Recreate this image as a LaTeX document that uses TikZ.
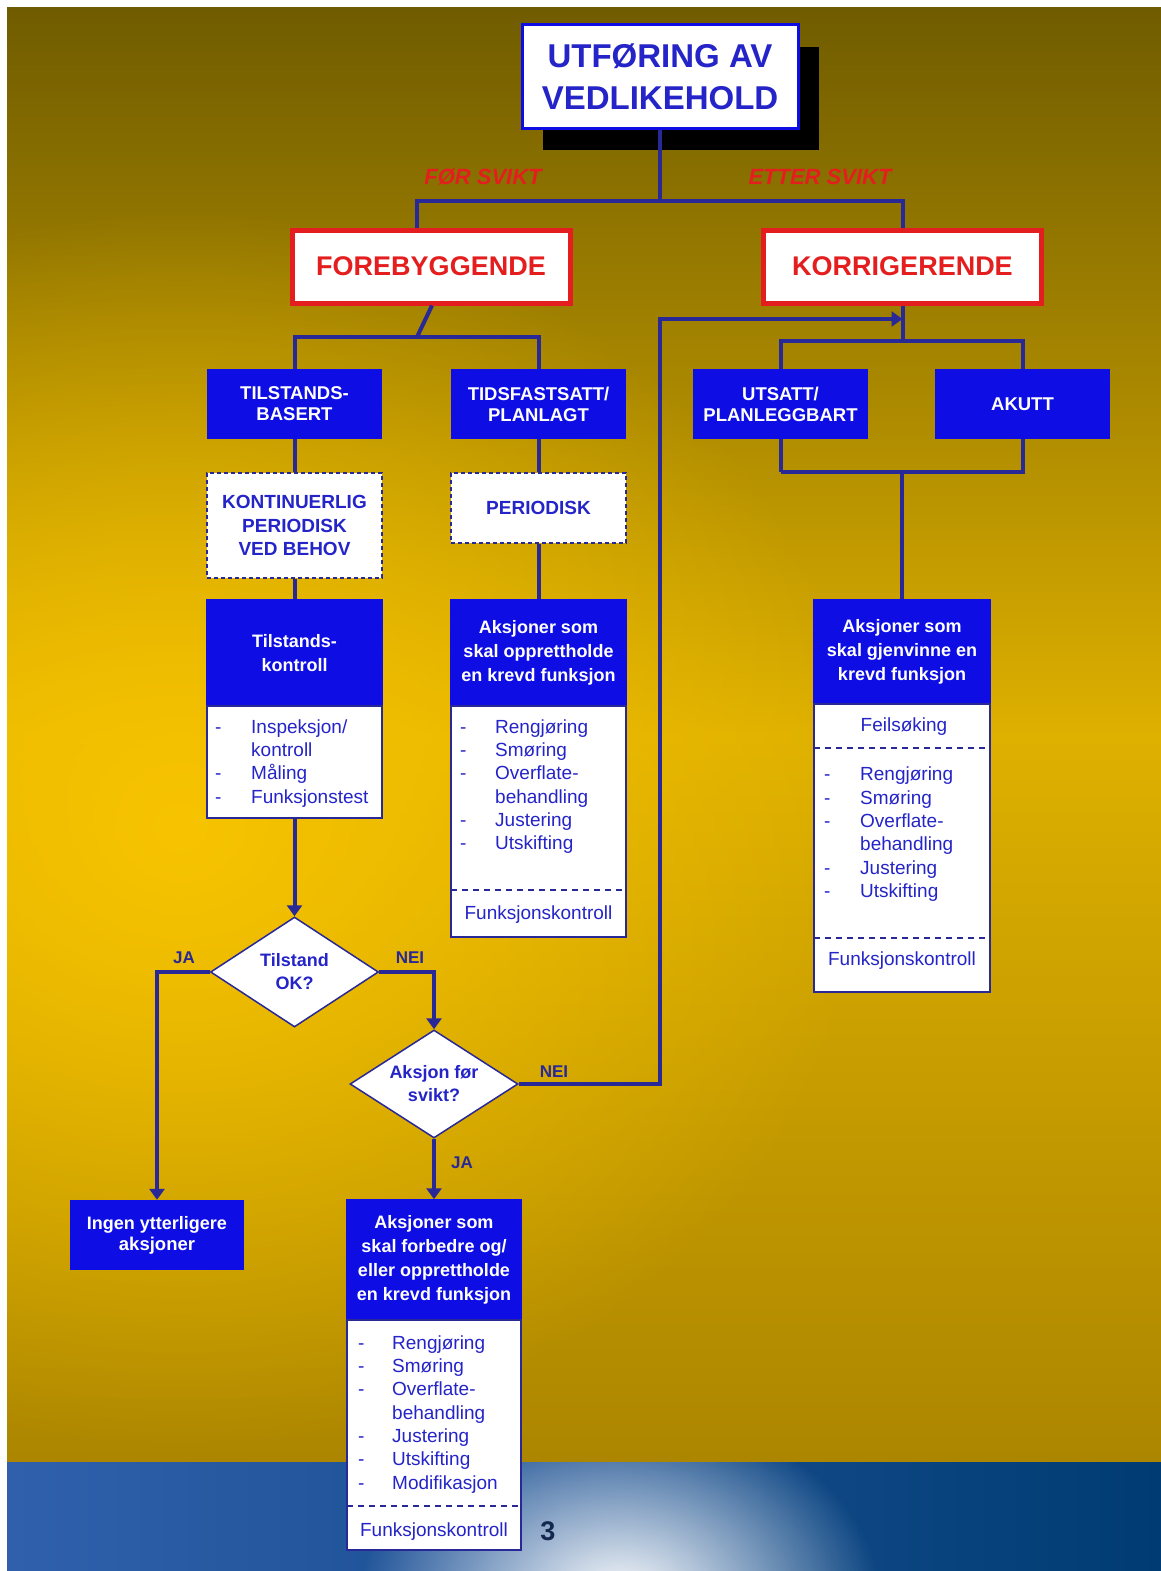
\documentclass[tikz,border=0pt]{standalone}
\usepackage{fontspec}
\setmainfont{Liberation Sans}
\usetikzlibrary{shapes.geometric,arrows.meta,shadows,fadings}
\definecolor{boxblue}{RGB}{14,14,228}
\definecolor{navy}{RGB}{40,40,150}
\definecolor{txtblue}{RGB}{36,36,200}
\definecolor{redc}{RGB}{228,30,30}
\definecolor{bgtop}{RGB}{112,92,0}
\definecolor{bgmid}{RGB}{222,176,0}
\definecolor{bgbot}{RGB}{172,134,0}
\definecolor{glow}{RGB}{248,196,0}
\definecolor{bandl}{RGB}{48,96,172}
\definecolor{bandr}{RGB}{0,60,115}
\definecolor{pagenum}{RGB}{20,40,80}
\tikzfading[name=radfade, inner color=transparent!0, outer color=transparent!100]
\begin{document}
\begin{tikzpicture}[x=1pt,y=-1pt,
  conn/.style={draw=navy,line width=4pt},
  arr/.style={conn,-{Triangle[width=15pt,length=11pt]}},
  titlebox/.style={draw=boxblue,line width=3pt,fill=white,minimum width=276pt,minimum height=103pt,inner sep=0pt,align=center,text=txtblue,font=\fontsize{33}{42}\selectfont\bfseries,general shadow={fill=black,shadow xshift=21pt,shadow yshift=-22pt}},
  redbox/.style={draw=redc,line width=5pt,fill=white,minimum width=278pt,minimum height=73pt,inner sep=0pt,text=redc,font=\fontsize{27}{32}\selectfont\bfseries},
  bluebox/.style={fill=boxblue,minimum width=175pt,minimum height=70pt,inner sep=0pt,align=center,text=white,font=\fontsize{18.5}{21}\selectfont\bfseries},
  head/.style={fill=boxblue,draw=boxblue,line width=1.5pt,minimum width=175pt,inner sep=0pt,align=center,text=white,font=\fontsize{18}{24}\selectfont\bfseries},
  body/.style={fill=white,draw=navy,line width=1.5pt,minimum width=175pt,inner sep=0pt},
  dbox/.style={fill=white,draw=navy,dash pattern=on 4pt off 3pt,line width=1.5pt,minimum width=175pt,inner sep=0pt,align=center,text=txtblue,font=\fontsize{19}{23.5}\selectfont\bfseries},
  dia/.style={diamond,aspect=1.55,fill=white,draw=navy,line width=1.5pt,inner sep=0pt,align=center,text=txtblue,font=\fontsize{18}{23}\selectfont\bfseries},
  lst/.style={anchor=north west,inner sep=0pt,text=txtblue,font=\fontsize{19}{23.3}\selectfont},
  plain/.style={inner sep=0pt,text=txtblue,font=\fontsize{19}{23.3}\selectfont},
  sep/.style={draw=navy,line width=2pt,dash pattern=on 6pt off 5pt},
  lbl/.style={inner sep=0pt,text=navy,font=\fontsize{17}{20}\selectfont\bfseries},
  redlbl/.style={inner sep=0pt,text=redc,font=\fontsize{22}{26}\selectfont\bfseries\itshape}
]
\useasboundingbox (0,0) rectangle (1161,1571);
% background
\fill[white] (0,0) rectangle (1161,1571);
\begin{scope}
\clip (7,8) rectangle (1161,1462);
\shade[top color=bgtop, bottom color=bgbot, middle color=bgmid] (7,8) rectangle (1161,1462);
\fill[glow, path fading=radfade] (180,830) ellipse [x radius=700, y radius=620];
\end{scope}
\begin{scope}
\clip (7,1462) rectangle (1161,1571);
\shade[left color=bandl, right color=bandr] (7,1462) rectangle (1161,1571);
\fill[white, path fading=radfade] (620,1600) ellipse [x radius=260, y radius=190];
\end{scope}

% nodes
\node[titlebox] (title) at (660,76.5) {UTFØRING AV\\VEDLIKEHOLD};
\node[redbox] (fore) at (431,266.5) {FOREBYGGENDE};
\node[redbox] (korr) at (902.5,266.5) {KORRIGERENDE};
\node[redlbl] (forl) at (483,177) {FØR SVIKT};
\node[redlbl] (ettl) at (820,177) {ETTER SVIKT};

\node[bluebox] (tb) at (294.5,404) {TILSTANDS-\\BASERT};
\node[bluebox] (tp) at (538.5,404) {TIDSFASTSATT/\\PLANLAGT};
\node[bluebox] (ut) at (780.5,404) {UTSATT/\\PLANLEGGBART};
\node[bluebox] (ak) at (1022.5,404) {AKUTT};

\node[dbox,minimum height=105pt] (kont) at (294.5,525.5) {KONTINUERLIG\\PERIODISK\\VED BEHOV};
\node[dbox,minimum height=70pt] (per) at (538.5,508) {PERIODISK};

% Tilstandskontroll
\node[head,minimum height=106pt] (tkh) at (294.5,653) {Tilstands-\\kontroll};
\node[body,minimum height=112pt] (tkb) at (294.5,762) {};
\node[lst] (tkl) at (215,716.7) {\begin{tabular}{@{}p{36pt}@{}l@{}}-&Inspeksjon/\\&kontroll\\-&Måling\\-&Funksjonstest\end{tabular}};

% opprettholde
\node[head,minimum height=106pt] (thh) at (538.5,653) {Aksjoner som\\skal opprettholde\\en krevd funksjon};
\node[body,minimum height=231pt] (thb) at (538.5,821.5) {};
\node[lst] (thl) at (460,716.7) {\begin{tabular}{@{}p{35pt}@{}l@{}}-&Rengjøring\\-&Smøring\\-&Overflate-\\&behandling\\-&Justering\\-&Utskifting\end{tabular}};
\draw[sep] (451,890) -- (626,890);
\node[plain] (thf) at (538.5,915) {Funksjonskontroll};

% gjenvinne
\node[head,minimum width=176pt,minimum height=104pt] (rhh) at (902,652) {Aksjoner som\\skal gjenvinne en\\krevd funksjon};
\node[body,minimum width=176pt,minimum height=288pt] (rhb) at (902,848) {};
\node[plain] (rhfs) at (904,727) {Feilsøking};
\draw[sep] (814,748) -- (990,748);
\node[lst] (rhl) at (824,764.3) {\begin{tabular}{@{}p{36pt}@{}l@{}}-&Rengjøring\\-&Smøring\\-&Overflate-\\&behandling\\-&Justering\\-&Utskifting\end{tabular}};
\draw[sep] (814,938) -- (990,938);
\node[plain] (rhf) at (902,961) {Funksjonskontroll};

% decisions
\node[dia,minimum width=168pt,minimum height=110pt] (d1) at (294.5,972) {Tilstand\\OK?};
\node[dia,minimum width=168pt,minimum height=108pt] (d2) at (434,1084) {Aksjon før\\svikt?};

\node[bluebox,minimum width=174pt] (ingen) at (157,1235) {\fontsize{18}{23}\selectfont Ingen ytterligere\\aksjoner};

% forbedre
\node[head,minimum width=174pt,minimum height=120pt] (bhh) at (434,1260) {Aksjoner som\\skal forbedre og/\\eller opprettholde\\en krevd funksjon};
\node[body,minimum width=174pt,minimum height=230pt] (bhb) at (434,1435) {};
\node[lst] (bhl) at (358,1332.7) {\begin{tabular}{@{}p{34pt}@{}l@{}}-&Rengjøring\\-&Smøring\\-&Overflate-\\&behandling\\-&Justering\\-&Utskifting\\-&Modifikasjon\end{tabular}};
\draw[sep] (347,1506) -- (521,1506);
\node[plain] (bhf) at (434,1532) {Funksjonskontroll};

\node[inner sep=0pt,text=pagenum,font=\fontsize{27}{30}\selectfont\bfseries] (pg) at (548,1531) {3};

% connectors
\draw[conn] (title.south) -- ++(0,71) coordinate (tsplit);
\draw[conn] ([xshift=-14pt]fore.north) |- (tsplit) -| (korr.north);
\draw[conn] ([xshift=1pt]fore.south) -- (417,337) coordinate (fsplit);
\draw[conn] (tb.north) |- (fsplit) -| (tp.north);
\draw[conn] (korr.south) -- ++(0,35) coordinate (ksplit);
\draw[conn] (ut.north) |- (ksplit) -| (ak.north);
\draw[conn] (tb) -- (kont);
\draw[conn] (kont) -- (tkh);
\draw[conn] (tp) -- (per);
\draw[conn] (per) -- (thh);
\draw[conn] (ut.south) -- ++(0,33) coordinate (us);
\draw[conn] (us) -| (ak.south);
\draw[conn] (rhh.north) -- (rhh.north |- us);
\draw[arr] (tkb) -- (d1);
\draw[arr] (d1.west) -| (ingen.north);
\draw[arr] (d1.east) -| (d2.north);
\draw[arr] (d2) -- (bhh);
\coordinate (bend) at (660,319);
\draw[arr] (d2.east) -| (bend) -- (bend -| korr.south);

\node[lbl] (ja1) at (184,958) {JA};
\node[lbl] (nei1) at (410,958) {NEI};
\node[lbl] (nei2) at (554,1072) {NEI};
\node[lbl] (ja2) at (462,1163) {JA};
\end{tikzpicture}
\end{document}
